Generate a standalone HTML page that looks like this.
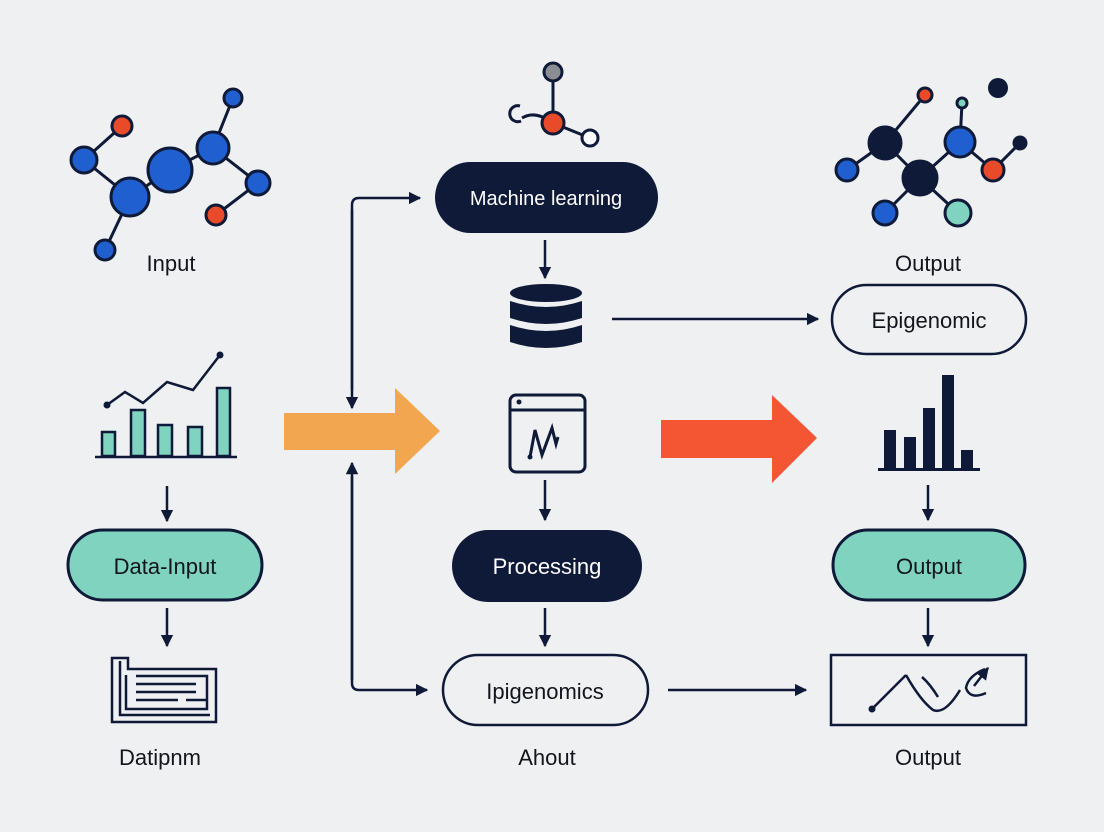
<!DOCTYPE html>
<html><head><meta charset="utf-8"><style>
html,body{margin:0;padding:0;background:#eef0f2;}
svg{display:block;}
text{font-family:"Liberation Sans",sans-serif;fill:#12151c;}
</style></head><body>
<svg width="1104" height="832" viewBox="0 0 1104 832" xmlns="http://www.w3.org/2000/svg">
<defs>
<marker id="ah" viewBox="0 0 10 10" refX="9" refY="5" markerWidth="5" markerHeight="5" orient="auto"><path d="M0,0L10,5L0,10z" fill="#0f1a38"/></marker>
</defs>
<rect width="1104" height="832" fill="#eef0f2"/>
<g stroke="#0f1a38" stroke-width="3" fill="none">
<path d="M122,126L84,160L130,197L170,170L213,148L233,98M213,148L258,183L216,215M130,197L105,250"/>
</g>
<g stroke="#0f1a38" stroke-width="3">
<circle cx="170" cy="170" r="22" fill="#1f5fcf"/>
<circle cx="130" cy="197" r="19" fill="#1f5fcf"/>
<circle cx="213" cy="148" r="16" fill="#1f5fcf"/>
<circle cx="84" cy="160" r="13" fill="#1f5fcf"/>
<circle cx="122" cy="126" r="10" fill="#e94a2a"/>
<circle cx="233" cy="98" r="9" fill="#1f5fcf"/>
<circle cx="258" cy="183" r="12" fill="#1f5fcf"/>
<circle cx="216" cy="215" r="10" fill="#e94a2a"/>
<circle cx="105" cy="250" r="10" fill="#1f5fcf"/>
</g>
<text x="171" y="271" font-size="22" text-anchor="middle">Input</text>

<g stroke="#0f1a38" stroke-width="2.5" fill="#7fd3bf">
<rect x="102" y="432" width="13" height="24"/>
<rect x="131" y="410" width="14" height="46"/>
<rect x="158" y="425" width="14" height="31"/>
<rect x="188" y="427" width="14" height="29"/>
<rect x="217" y="388" width="13" height="68"/>
<line x1="95" y1="457" x2="237" y2="457"/>
<polyline points="107,405 125,392 143,403 167,382 193,390 220,355" fill="none"/>
</g>
<circle cx="107" cy="405" r="3.5" fill="#0f1a38"/><circle cx="220" cy="355" r="3.5" fill="#0f1a38"/>

<g stroke="#0f1a38" stroke-width="2.5" fill="none" marker-end="url(#ah)">
<line x1="167" y1="486" x2="167" y2="521"/>
<line x1="167" y1="608" x2="167" y2="646"/>
<line x1="545" y1="240" x2="545" y2="278"/>
<line x1="545" y1="480" x2="545" y2="520"/>
<line x1="545" y1="608" x2="545" y2="646"/>
<line x1="928" y1="485" x2="928" y2="520"/>
<line x1="928" y1="608" x2="928" y2="646"/>
<line x1="612" y1="319" x2="818" y2="319"/>
<line x1="668" y1="690" x2="806" y2="690"/>
<path d="M352,390L352,205Q352,198 359,198L420,198"/>
<path d="M352,476L352,683Q352,690 359,690L427,690"/>
</g>
<g stroke="#0f1a38" stroke-width="2.5" marker-end="url(#ah)"><line x1="352" y1="210" x2="352" y2="408"/><line x1="352" y1="680" x2="352" y2="463"/></g>

<rect x="68" y="530" width="194" height="70" rx="35" fill="#7fd3bf" stroke="#0f1a38" stroke-width="3"/>
<text x="165" y="574" font-size="22" text-anchor="middle">Data-Input</text>

<g stroke="#0f1a38" stroke-width="2.5" fill="none">
<path d="M112,658L112,722L216,722L216,669L128,669L128,658Z"/>
<path d="M120,661L120,715L210,715"/>
<path d="M126,675L126,709L207,709L207,676L136,676"/>
<line x1="136" y1="684" x2="196" y2="684"/><line x1="136" y1="692" x2="196" y2="692"/><line x1="136" y1="700" x2="178" y2="700"/><line x1="186" y1="700" x2="206" y2="700"/>
</g>
<text x="160" y="765" font-size="22" text-anchor="middle">Datipnm</text>

<g stroke="#0f1a38" stroke-width="3">
<line x1="553" y1="72" x2="553" y2="123"/><line x1="553" y1="123" x2="590" y2="138"/><path d="M553,123Q535,110 522,118" fill="none"/>
<circle cx="553" cy="72" r="9" fill="#8a8d92"/>
<circle cx="553" cy="123" r="11" fill="#e94a2a"/>
<circle cx="590" cy="138" r="8" fill="#fff"/>
<path d="M520,106A8,8 0 1 0 521,121" fill="none"/>
</g>
<rect x="435" y="162" width="223" height="71" rx="35.5" fill="#0f1a38"/>
<text x="546" y="205" font-size="20" text-anchor="middle" style="fill:#fff">Machine learning</text>

<g fill="#0f1a38">
<ellipse cx="546" cy="293" rx="36" ry="9"/>
<path d="M510,301Q546,313 582,301L582,318Q546,330 510,318Z"/>
<path d="M510,325Q546,337 582,325L582,342Q546,354 510,342Z"/>
</g>
<rect x="832" y="285" width="194" height="69" rx="34.5" fill="none" stroke="#0f1a38" stroke-width="2.5"/>
<text x="929" y="328" font-size="22" text-anchor="middle">Epigenomic</text>

<g stroke="#0f1a38" stroke-width="3" fill="none">
<rect x="510" y="395" width="75" height="77" rx="6"/>
<line x1="510" y1="410" x2="585" y2="410"/>
<polyline points="530,457 535,430 542,455 552,428 556,444 558,437"/>
</g>
<circle cx="519" cy="402" r="2.5" fill="#0f1a38"/><circle cx="530" cy="457" r="2.5" fill="#0f1a38"/>

<rect x="452" y="530" width="190" height="72" rx="36" fill="#0f1a38"/>
<text x="547" y="574" font-size="22" text-anchor="middle" style="fill:#fff">Processing</text>
<rect x="443" y="655" width="205" height="70" rx="35" fill="none" stroke="#0f1a38" stroke-width="2.5"/>
<text x="545" y="699" font-size="22" text-anchor="middle">Ipigenomics</text>
<text x="547" y="765" font-size="22" text-anchor="middle">Ahout</text>

<path d="M284,413L395,413L395,388L440,431L395,474L395,450L284,450Z" fill="#f2a650"/>
<path d="M661,420L772,420L772,395L817,438L772,483L772,458L661,458Z" fill="#f45532"/>

<g stroke="#0f1a38" stroke-width="3">
<line x1="847" y1="170" x2="885" y2="143"/><line x1="885" y1="143" x2="920" y2="178"/><line x1="920" y1="178" x2="960" y2="142"/><line x1="960" y1="142" x2="993" y2="170"/><line x1="920" y1="178" x2="885" y2="213"/><line x1="920" y1="178" x2="958" y2="213"/><line x1="885" y1="143" x2="925" y2="95"/><line x1="960" y1="142" x2="962" y2="103"/><line x1="993" y1="170" x2="1020" y2="143"/>
<circle cx="885" cy="143" r="16" fill="#0f1a38"/>
<circle cx="920" cy="178" r="17" fill="#0f1a38"/>
<circle cx="847" cy="170" r="11" fill="#1f5fcf"/>
<circle cx="960" cy="142" r="15" fill="#1f5fcf"/>
<circle cx="993" cy="170" r="11" fill="#e94a2a"/>
<circle cx="885" cy="213" r="12" fill="#1f5fcf"/>
<circle cx="958" cy="213" r="13" fill="#7fd3bf"/>
<circle cx="925" cy="95" r="7" fill="#e94a2a"/>
<circle cx="962" cy="103" r="5" fill="#7fd3bf"/>
<circle cx="1020" cy="143" r="6" fill="#0f1a38"/>
</g>
<circle cx="998" cy="88" r="10" fill="#0f1a38"/>
<text x="928" y="271" font-size="22" text-anchor="middle">Output</text>

<g fill="#0f1a38">
<rect x="884" y="430" width="12" height="39"/><rect x="904" y="437" width="12" height="32"/><rect x="923" y="408" width="12" height="61"/><rect x="942" y="375" width="12" height="94"/><rect x="961" y="450" width="12" height="19"/>
<rect x="878" y="468" width="102" height="3"/>
</g>

<rect x="833" y="530" width="192" height="70" rx="35" fill="#7fd3bf" stroke="#0f1a38" stroke-width="3"/>
<text x="929" y="574" font-size="22" text-anchor="middle">Output</text>
<rect x="831" y="655" width="195" height="70" fill="none" stroke="#0f1a38" stroke-width="2.5"/>
<g stroke="#0f1a38" stroke-width="2.5" fill="none">
<path d="M872,709L906,675"/><path d="M906,675Q920,700 933,710Q945,715 960,690"/><path d="M922,677Q930,684 938,697"/><path d="M986,693Q970,700 966,688Q968,676 985,669"/>
</g>
<circle cx="872" cy="709" r="3.5" fill="#0f1a38"/>
<g stroke="#0f1a38" stroke-width="2.5" fill="none" marker-end="url(#ah)"><line x1="974" y1="686" x2="988" y2="668"/></g>
<text x="928" y="765" font-size="22" text-anchor="middle">Output</text>
</svg>
</body></html>
